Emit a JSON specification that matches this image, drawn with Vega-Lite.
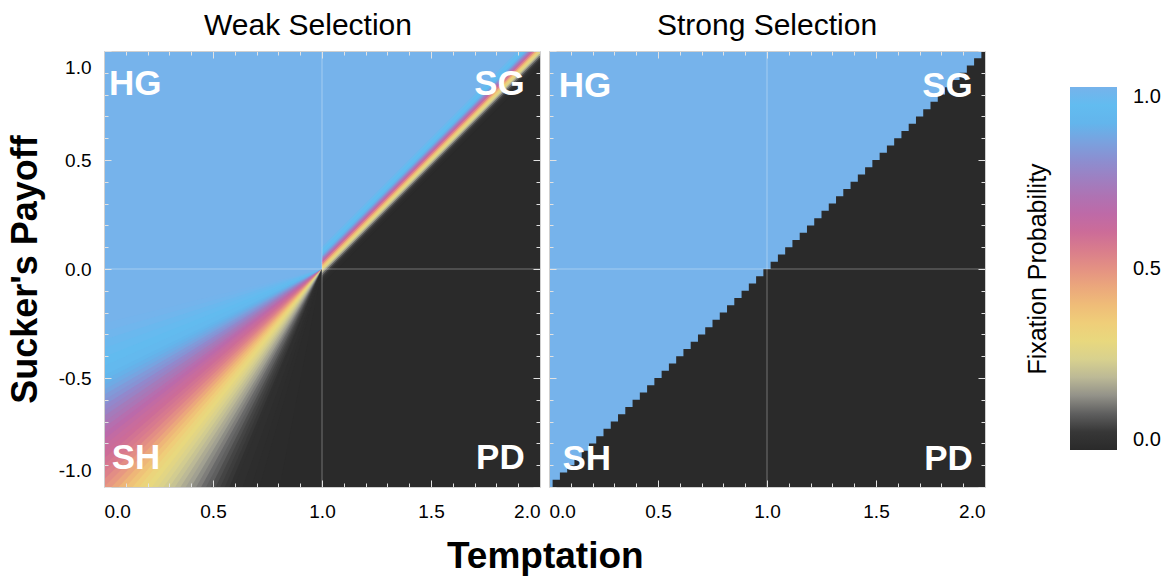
{
 "$schema": "https://vega.github.io/schema/vega-lite/v6.json",
 "padding": {"left": 7, "top": 10, "right": 5, "bottom": 5},
 "background": "white",
 "title": {"text": "Temptation", "orient": "bottom", "anchor": "start", "frame": "group", "dx": 343, "fontSize": 37, "fontWeight": "bold", "font": "Liberation Sans", "offset": 15, "color": "black"},
 "datasets": {
  "weak": [
   {"part":"bg","id":"bg","t":0,"lo":-1,"hi":1,"v":1},{"part":"bg","id":"bg","t":2,"lo":-1,"hi":1,"v":1},
   {"part":"dark","id":"dk","t":0.5,"lo":-1,"hi":-1,"v":0},{"part":"dark","id":"dk","t":1,"lo":-1,"hi":0,"v":0},{"part":"dark","id":"dk","t":2,"lo":-1,"hi":1,"v":0},
   {"part":"wedge","id":"w14","t":0,"lo":-0.3249,"hi":-0.2493,"v":0.995},{"part":"wedge","id":"w14","t":1,"lo":0,"hi":0,"v":0.995},
   {"part":"wedge","id":"w16","t":0,"lo":-0.3640,"hi":-0.2867,"v":0.985},{"part":"wedge","id":"w16","t":1,"lo":0,"hi":0,"v":0.985},
   {"part":"wedge","id":"w18","t":0,"lo":-0.4040,"hi":-0.3249,"v":0.97},{"part":"wedge","id":"w18","t":1,"lo":0,"hi":0,"v":0.97},
   {"part":"wedge","id":"w20","t":0,"lo":-0.4452,"hi":-0.3640,"v":0.96},{"part":"wedge","id":"w20","t":1,"lo":0,"hi":0,"v":0.96},
   {"part":"wedge","id":"w22","t":0,"lo":-0.4877,"hi":-0.4040,"v":0.94},{"part":"wedge","id":"w22","t":1,"lo":0,"hi":0,"v":0.94},
   {"part":"wedge","id":"w24","t":0,"lo":-0.5095,"hi":-0.4452,"v":0.925},{"part":"wedge","id":"w24","t":1,"lo":0,"hi":0,"v":0.925},
   {"part":"wedge","id":"w26","t":0,"lo":-0.5317,"hi":-0.4877,"v":0.905},{"part":"wedge","id":"w26","t":1,"lo":0,"hi":0,"v":0.905},
   {"part":"wedge","id":"w27","t":0,"lo":-0.5543,"hi":-0.5095,"v":0.89},{"part":"wedge","id":"w27","t":1,"lo":0,"hi":0,"v":0.89},
   {"part":"wedge","id":"w28","t":0,"lo":-0.5774,"hi":-0.5317,"v":0.875},{"part":"wedge","id":"w28","t":1,"lo":0,"hi":0,"v":0.875},
   {"part":"wedge","id":"w29","t":0,"lo":-0.6009,"hi":-0.5543,"v":0.855},{"part":"wedge","id":"w29","t":1,"lo":0,"hi":0,"v":0.855},
   {"part":"wedge","id":"w30","t":0,"lo":-0.6249,"hi":-0.5774,"v":0.83},{"part":"wedge","id":"w30","t":1,"lo":0,"hi":0,"v":0.83},
   {"part":"wedge","id":"w31","t":0,"lo":-0.6494,"hi":-0.6009,"v":0.81},{"part":"wedge","id":"w31","t":1,"lo":0,"hi":0,"v":0.81},
   {"part":"wedge","id":"w32","t":0,"lo":-0.6745,"hi":-0.6249,"v":0.78},{"part":"wedge","id":"w32","t":1,"lo":0,"hi":0,"v":0.78},
   {"part":"wedge","id":"w33","t":0,"lo":-0.7002,"hi":-0.6494,"v":0.76},{"part":"wedge","id":"w33","t":1,"lo":0,"hi":0,"v":0.76},
   {"part":"wedge","id":"w34","t":0,"lo":-0.7265,"hi":-0.6745,"v":0.73},{"part":"wedge","id":"w34","t":1,"lo":0,"hi":0,"v":0.73},
   {"part":"wedge","id":"w35","t":0,"lo":-0.7536,"hi":-0.7002,"v":0.71},{"part":"wedge","id":"w35","t":1,"lo":0,"hi":0,"v":0.71},
   {"part":"wedge","id":"w36","t":0,"lo":-0.7813,"hi":-0.7265,"v":0.68},{"part":"wedge","id":"w36","t":1,"lo":0,"hi":0,"v":0.68},
   {"part":"wedge","id":"w37","t":0,"lo":-0.8098,"hi":-0.7536,"v":0.66},{"part":"wedge","id":"w37","t":1,"lo":0,"hi":0,"v":0.66},
   {"part":"wedge","id":"w38","t":0,"lo":-0.8391,"hi":-0.7813,"v":0.635},{"part":"wedge","id":"w38","t":1,"lo":0,"hi":0,"v":0.635},
   {"part":"wedge","id":"w39","t":0,"lo":-0.8693,"hi":-0.8098,"v":0.615},{"part":"wedge","id":"w39","t":1,"lo":0,"hi":0,"v":0.615},
   {"part":"wedge","id":"w40","t":0,"lo":-0.9004,"hi":-0.8391,"v":0.6},{"part":"wedge","id":"w40","t":1,"lo":0,"hi":0,"v":0.6},
   {"part":"wedge","id":"w41","t":0,"lo":-0.9325,"hi":-0.8693,"v":0.58},{"part":"wedge","id":"w41","t":1,"lo":0,"hi":0,"v":0.58},
   {"part":"wedge","id":"w42","t":0,"lo":-0.9657,"hi":-0.9004,"v":0.56},{"part":"wedge","id":"w42","t":1,"lo":0,"hi":0,"v":0.56},
   {"part":"wedge","id":"w43","t":0,"lo":-1.0,"hi":-0.9325,"v":0.54},{"part":"wedge","id":"w43","t":1,"lo":0,"hi":0,"v":0.54},
   {"part":"wedge","id":"w44","t":0,"lo":-1.0355,"hi":-0.9657,"v":0.51},{"part":"wedge","id":"w44","t":1,"lo":0,"hi":0,"v":0.51},
   {"part":"wedge","id":"w45","t":0,"lo":-1.0724,"hi":-1.0,"v":0.485},{"part":"wedge","id":"w45","t":1,"lo":0,"hi":0,"v":0.485},
   {"part":"wedge","id":"w46","t":0,"lo":-1.1106,"hi":-1.0355,"v":0.45},{"part":"wedge","id":"w46","t":1,"lo":0,"hi":0,"v":0.45},
   {"part":"wedge","id":"w47","t":0,"lo":-1.1504,"hi":-1.0724,"v":0.415},{"part":"wedge","id":"w47","t":1,"lo":0,"hi":0,"v":0.415},
   {"part":"wedge","id":"w48","t":0,"lo":-1.1918,"hi":-1.1106,"v":0.385},{"part":"wedge","id":"w48","t":1,"lo":0,"hi":0,"v":0.385},
   {"part":"wedge","id":"w49","t":0,"lo":-1.2349,"hi":-1.1504,"v":0.355},{"part":"wedge","id":"w49","t":1,"lo":0,"hi":0,"v":0.355},
   {"part":"wedge","id":"w50","t":0,"lo":-1.2799,"hi":-1.1918,"v":0.32},{"part":"wedge","id":"w50","t":1,"lo":0,"hi":0,"v":0.32},
   {"part":"wedge","id":"w51","t":0,"lo":-1.3270,"hi":-1.2349,"v":0.3},{"part":"wedge","id":"w51","t":1,"lo":0,"hi":0,"v":0.3},
   {"part":"wedge","id":"w52","t":0,"lo":-1.3764,"hi":-1.2799,"v":0.28},{"part":"wedge","id":"w52","t":1,"lo":0,"hi":0,"v":0.28},
   {"part":"wedge","id":"w53","t":0,"lo":-1.4281,"hi":-1.3270,"v":0.26},{"part":"wedge","id":"w53","t":1,"lo":0,"hi":0,"v":0.26},
   {"part":"wedge","id":"w54","t":0,"lo":-1.4826,"hi":-1.3764,"v":0.24},{"part":"wedge","id":"w54","t":1,"lo":0,"hi":0,"v":0.24},
   {"part":"wedge","id":"w55","t":0,"lo":-1.5399,"hi":-1.4281,"v":0.22},{"part":"wedge","id":"w55","t":1,"lo":0,"hi":0,"v":0.22},
   {"part":"wedge","id":"w56","t":0,"lo":-1.6003,"hi":-1.4826,"v":0.2},{"part":"wedge","id":"w56","t":1,"lo":0,"hi":0,"v":0.2},
   {"part":"wedge","id":"w57","t":0,"lo":-1.6643,"hi":-1.5399,"v":0.18},{"part":"wedge","id":"w57","t":1,"lo":0,"hi":0,"v":0.18},
   {"part":"wedge","id":"w58","t":0,"lo":-1.7321,"hi":-1.6003,"v":0.165},{"part":"wedge","id":"w58","t":1,"lo":0,"hi":0,"v":0.165},
   {"part":"wedge","id":"w59","t":0,"lo":-1.8040,"hi":-1.6643,"v":0.145},{"part":"wedge","id":"w59","t":1,"lo":0,"hi":0,"v":0.145},
   {"part":"wedge","id":"w60","t":0,"lo":-1.8807,"hi":-1.7321,"v":0.13},{"part":"wedge","id":"w60","t":1,"lo":0,"hi":0,"v":0.13},
   {"part":"wedge","id":"w61","t":0,"lo":-1.9626,"hi":-1.8040,"v":0.11},{"part":"wedge","id":"w61","t":1,"lo":0,"hi":0,"v":0.11},
   {"part":"wedge","id":"w62","t":0,"lo":-2.0503,"hi":-1.8807,"v":0.1},{"part":"wedge","id":"w62","t":1,"lo":0,"hi":0,"v":0.1},
   {"part":"wedge","id":"w63","t":0,"lo":-2.1445,"hi":-1.9626,"v":0.085},{"part":"wedge","id":"w63","t":1,"lo":0,"hi":0,"v":0.085},
   {"part":"wedge","id":"w64","t":0,"lo":-2.2460,"hi":-2.0503,"v":0.07},{"part":"wedge","id":"w64","t":1,"lo":0,"hi":0,"v":0.07},
   {"part":"wedge","id":"w65","t":0,"lo":-2.3559,"hi":-2.1445,"v":0.06},{"part":"wedge","id":"w65","t":1,"lo":0,"hi":0,"v":0.06},
   {"part":"wedge","id":"w66","t":0,"lo":-2.4751,"hi":-2.2460,"v":0.05},{"part":"wedge","id":"w66","t":1,"lo":0,"hi":0,"v":0.05},
   {"part":"wedge","id":"w67","t":0,"lo":-2.7475,"hi":-2.3559,"v":0.04},{"part":"wedge","id":"w67","t":1,"lo":0,"hi":0,"v":0.04},
   {"part":"wedge","id":"w68","t":0,"lo":-3.0777,"hi":-2.4751,"v":0.03},{"part":"wedge","id":"w68","t":1,"lo":0,"hi":0,"v":0.03},
   {"part":"wedge","id":"w70","t":0,"lo":-3.4874,"hi":-2.7475,"v":0.018},{"part":"wedge","id":"w70","t":1,"lo":0,"hi":0,"v":0.018},
   {"part":"wedge","id":"w72","t":0,"lo":-4.0108,"hi":-3.0777,"v":0.01},{"part":"wedge","id":"w72","t":1,"lo":0,"hi":0,"v":0.01},
   {"part":"wedge","id":"w74","t":0,"lo":-5.1446,"hi":-3.4874,"v":0.004},{"part":"wedge","id":"w74","t":1,"lo":0,"hi":0,"v":0.004},
   {"part":"band","id":"b1","t":1,"lo":-0.07,"hi":-0.05,"v":0.005},{"part":"band","id":"b1","t":2,"lo":0.93,"hi":0.95,"v":0.005},
   {"part":"band","id":"b2","t":1,"lo":-0.06,"hi":-0.04,"v":0.012},{"part":"band","id":"b2","t":2,"lo":0.94,"hi":0.96,"v":0.012},
   {"part":"band","id":"b3","t":1,"lo":-0.05,"hi":-0.03,"v":0.03},{"part":"band","id":"b3","t":2,"lo":0.95,"hi":0.97,"v":0.03},
   {"part":"band","id":"b4","t":1,"lo":-0.04,"hi":-0.02,"v":0.06},{"part":"band","id":"b4","t":2,"lo":0.96,"hi":0.98,"v":0.06},
   {"part":"band","id":"b5","t":1,"lo":-0.03,"hi":-0.01,"v":0.11},{"part":"band","id":"b5","t":2,"lo":0.97,"hi":0.99,"v":0.11},
   {"part":"band","id":"b6","t":1,"lo":-0.02,"hi":0,"v":0.18},{"part":"band","id":"b6","t":2,"lo":0.98,"hi":1.0,"v":0.18},
   {"part":"band","id":"b7","t":1,"lo":-0.01,"hi":0.01,"v":0.26},{"part":"band","id":"b7","t":2,"lo":0.99,"hi":1.01,"v":0.26},
   {"part":"band","id":"b8","t":1,"lo":0,"hi":0.02,"v":0.33},{"part":"band","id":"b8","t":2,"lo":1.0,"hi":1.02,"v":0.33},
   {"part":"band","id":"b9","t":1,"lo":0.01,"hi":0.03,"v":0.42},{"part":"band","id":"b9","t":2,"lo":1.01,"hi":1.03,"v":0.42},
   {"part":"band","id":"b10","t":1,"lo":0.02,"hi":0.04,"v":0.53},{"part":"band","id":"b10","t":2,"lo":1.02,"hi":1.04,"v":0.53},
   {"part":"band","id":"b11","t":1,"lo":0.03,"hi":0.05,"v":0.64},{"part":"band","id":"b11","t":2,"lo":1.03,"hi":1.05,"v":0.64},
   {"part":"band","id":"b12","t":1,"lo":0.04,"hi":0.06,"v":0.74},{"part":"band","id":"b12","t":2,"lo":1.04,"hi":1.06,"v":0.74},
   {"part":"band","id":"b13","t":1,"lo":0.05,"hi":0.07,"v":0.83},{"part":"band","id":"b13","t":2,"lo":1.05,"hi":1.07,"v":0.83},
   {"part":"band","id":"b14","t":1,"lo":0.06,"hi":0.08,"v":0.9},{"part":"band","id":"b14","t":2,"lo":1.06,"hi":1.08,"v":0.9},
   {"part":"band","id":"b15","t":1,"lo":0.07,"hi":0.09,"v":0.95},{"part":"band","id":"b15","t":2,"lo":1.07,"hi":1.09,"v":0.95},
   {"part":"band","id":"b16","t":1,"lo":0.08,"hi":0.1,"v":0.95},{"part":"band","id":"b16","t":2,"lo":1.08,"hi":1.1,"v":0.95},
   {"part":"band","id":"b17","t":1,"lo":0.09,"hi":0.1,"v":0.975},{"part":"band","id":"b17","t":2,"lo":1.09,"hi":1.1,"v":0.975}
  ],
  "strong": [
   {"part":"bg","id":"bg","t":0,"lo":-1,"hi":1,"v":1},{"part":"bg","id":"bg","t":2,"lo":-1,"hi":1,"v":1},
   {"part":"dark","id":"dk","t":0,"lo":-1,"hi":-1,"v":0},
   {"part":"dark","id":"dk","t":0.0333,"lo":-1,"hi":-0.9667,"v":0},
   {"part":"dark","id":"dk","t":0.0667,"lo":-1,"hi":-0.9333,"v":0},
   {"part":"dark","id":"dk","t":0.1,"lo":-1,"hi":-0.9,"v":0},
   {"part":"dark","id":"dk","t":0.1333,"lo":-1,"hi":-0.8667,"v":0},
   {"part":"dark","id":"dk","t":0.1667,"lo":-1,"hi":-0.8333,"v":0},
   {"part":"dark","id":"dk","t":0.2,"lo":-1,"hi":-0.8,"v":0},
   {"part":"dark","id":"dk","t":0.2333,"lo":-1,"hi":-0.7667,"v":0},
   {"part":"dark","id":"dk","t":0.2667,"lo":-1,"hi":-0.7333,"v":0},
   {"part":"dark","id":"dk","t":0.3,"lo":-1,"hi":-0.7,"v":0},
   {"part":"dark","id":"dk","t":0.3333,"lo":-1,"hi":-0.6667,"v":0},
   {"part":"dark","id":"dk","t":0.3667,"lo":-1,"hi":-0.6333,"v":0},
   {"part":"dark","id":"dk","t":0.4,"lo":-1,"hi":-0.6,"v":0},
   {"part":"dark","id":"dk","t":0.4333,"lo":-1,"hi":-0.5667,"v":0},
   {"part":"dark","id":"dk","t":0.4667,"lo":-1,"hi":-0.5333,"v":0},
   {"part":"dark","id":"dk","t":0.5,"lo":-1,"hi":-0.5,"v":0},
   {"part":"dark","id":"dk","t":0.5333,"lo":-1,"hi":-0.4667,"v":0},
   {"part":"dark","id":"dk","t":0.5667,"lo":-1,"hi":-0.4333,"v":0},
   {"part":"dark","id":"dk","t":0.6,"lo":-1,"hi":-0.4,"v":0},
   {"part":"dark","id":"dk","t":0.6333,"lo":-1,"hi":-0.3667,"v":0},
   {"part":"dark","id":"dk","t":0.6667,"lo":-1,"hi":-0.3333,"v":0},
   {"part":"dark","id":"dk","t":0.7,"lo":-1,"hi":-0.3,"v":0},
   {"part":"dark","id":"dk","t":0.7333,"lo":-1,"hi":-0.2667,"v":0},
   {"part":"dark","id":"dk","t":0.7667,"lo":-1,"hi":-0.2333,"v":0},
   {"part":"dark","id":"dk","t":0.8,"lo":-1,"hi":-0.2,"v":0},
   {"part":"dark","id":"dk","t":0.8333,"lo":-1,"hi":-0.1667,"v":0},
   {"part":"dark","id":"dk","t":0.8667,"lo":-1,"hi":-0.1333,"v":0},
   {"part":"dark","id":"dk","t":0.9,"lo":-1,"hi":-0.1,"v":0},
   {"part":"dark","id":"dk","t":0.9333,"lo":-1,"hi":-0.0667,"v":0},
   {"part":"dark","id":"dk","t":0.9667,"lo":-1,"hi":-0.0333,"v":0},
   {"part":"dark","id":"dk","t":1,"lo":-1,"hi":0,"v":0},
   {"part":"dark","id":"dk","t":1.0333,"lo":-1,"hi":0.0333,"v":0},
   {"part":"dark","id":"dk","t":1.0667,"lo":-1,"hi":0.0667,"v":0},
   {"part":"dark","id":"dk","t":1.1,"lo":-1,"hi":0.1,"v":0},
   {"part":"dark","id":"dk","t":1.1333,"lo":-1,"hi":0.1333,"v":0},
   {"part":"dark","id":"dk","t":1.1667,"lo":-1,"hi":0.1667,"v":0},
   {"part":"dark","id":"dk","t":1.2,"lo":-1,"hi":0.2,"v":0},
   {"part":"dark","id":"dk","t":1.2333,"lo":-1,"hi":0.2333,"v":0},
   {"part":"dark","id":"dk","t":1.2667,"lo":-1,"hi":0.2667,"v":0},
   {"part":"dark","id":"dk","t":1.3,"lo":-1,"hi":0.3,"v":0},
   {"part":"dark","id":"dk","t":1.3333,"lo":-1,"hi":0.3333,"v":0},
   {"part":"dark","id":"dk","t":1.3667,"lo":-1,"hi":0.3667,"v":0},
   {"part":"dark","id":"dk","t":1.4,"lo":-1,"hi":0.4,"v":0},
   {"part":"dark","id":"dk","t":1.4333,"lo":-1,"hi":0.4333,"v":0},
   {"part":"dark","id":"dk","t":1.4667,"lo":-1,"hi":0.4667,"v":0},
   {"part":"dark","id":"dk","t":1.5,"lo":-1,"hi":0.5,"v":0},
   {"part":"dark","id":"dk","t":1.5333,"lo":-1,"hi":0.5333,"v":0},
   {"part":"dark","id":"dk","t":1.5667,"lo":-1,"hi":0.5667,"v":0},
   {"part":"dark","id":"dk","t":1.6,"lo":-1,"hi":0.6,"v":0},
   {"part":"dark","id":"dk","t":1.6333,"lo":-1,"hi":0.6333,"v":0},
   {"part":"dark","id":"dk","t":1.6667,"lo":-1,"hi":0.6667,"v":0},
   {"part":"dark","id":"dk","t":1.7,"lo":-1,"hi":0.7,"v":0},
   {"part":"dark","id":"dk","t":1.7333,"lo":-1,"hi":0.7333,"v":0},
   {"part":"dark","id":"dk","t":1.7667,"lo":-1,"hi":0.7667,"v":0},
   {"part":"dark","id":"dk","t":1.8,"lo":-1,"hi":0.8,"v":0},
   {"part":"dark","id":"dk","t":1.8333,"lo":-1,"hi":0.8333,"v":0},
   {"part":"dark","id":"dk","t":1.8667,"lo":-1,"hi":0.8667,"v":0},
   {"part":"dark","id":"dk","t":1.9,"lo":-1,"hi":0.9,"v":0},
   {"part":"dark","id":"dk","t":1.9333,"lo":-1,"hi":0.9333,"v":0},
   {"part":"dark","id":"dk","t":1.9667,"lo":-1,"hi":0.9667,"v":0},
   {"part":"dark","id":"dk","t":2,"lo":-1,"hi":1,"v":0}
  ],
  "vgrid": [{"t":1}],
  "hgrid": [{"s":0}],
  "corners": [
   {"panel":"weak","side":"L","t":0.023,"s":0.8,"label":"HG"},
   {"panel":"weak","side":"R","t":1.93,"s":0.8,"label":"SG"},
   {"panel":"weak","side":"L","t":0.035,"s":-0.916,"label":"SH"},
   {"panel":"weak","side":"R","t":1.93,"s":-0.916,"label":"PD"},
   {"panel":"strong","side":"L","t":0.045,"s":0.79,"label":"HG"},
   {"panel":"strong","side":"R","t":1.944,"s":0.79,"label":"SG"},
   {"panel":"strong","side":"L","t":0.062,"s":-0.922,"label":"SH"},
   {"panel":"strong","side":"R","t":1.944,"s":-0.922,"label":"PD"}
  ]
 },
 "hconcat": [
  {
   "width": 436, "height": 436,
   "title": {"text": "Weak Selection", "dx": -14, "offset": 10},
   "layer": [
    {"data": {"name": "weak"}, "transform": [{"filter": "datum.part == 'bg'"}],
     "mark": {"type": "area", "clip": true},
     "encoding": {
      "x": {"field": "t", "type": "quantitative", "scale": {"domain": [0, 2], "nice": false, "zero": false},
            "axis": {"orient": "bottom", "values": [0,0.1,0.2,0.3,0.4,0.5,0.6,0.7,0.8,0.9,1,1.1,1.2,1.3,1.4,1.5,1.6,1.7,1.8,1.9,2],
                     "labelExpr": "abs(datum.value*2 - round(datum.value*2)) < 0.001 ? format(datum.value, '.1f') : ''",
                     "tickSize": {"condition": {"test": "abs(datum.value*2 - round(datum.value*2)) < 0.001", "value": -7}, "value": -4},
                     "labelFlush": true, "labelOverlap": false, "labelPadding": 22, "title": null, "zindex": 1}},
      "y": {"field": "hi", "type": "quantitative", "stack": null, "scale": {"domain": [-1, 1], "nice": false, "zero": false},
            "axis": {"orient": "left", "values": [-1,-0.9,-0.8,-0.7,-0.6,-0.5,-0.4,-0.3,-0.2,-0.1,0,0.1,0.2,0.3,0.4,0.5,0.6,0.7,0.8,0.9,1],
                     "labelExpr": "abs(datum.value*2 - round(datum.value*2)) < 0.001 ? ((datum.value < 0 ? '-' : '') + format(abs(datum.value), '.1f')) : ''",
                     "tickSize": {"condition": {"test": "abs(datum.value*2 - round(datum.value*2)) < 0.001", "value": -7}, "value": -4},
                     "labelFlush": true, "labelFlushOffset": -7, "labelOverlap": false, "labelPadding": 20,
                     "title": "Sucker's Payoff", "titleFontSize": 36, "titleFontWeight": "bold", "titlePadding": 14, "zindex": 1}},
      "y2": {"field": "lo"},
      "color": {"field": "v", "type": "quantitative",
                "scale": {"domain": [0,0.04,0.08,0.12,0.16,0.2,0.25,0.3,0.36,0.42,0.48,0.54,0.6,0.66,0.72,0.78,0.84,0.9,0.95,1],
                          "range": ["#2a2a2a","#303030","#4a4a4a","#737373","#9d9c90","#bcb996","#d8d18e","#e8d87e","#f0cc78","#eeb478","#e89a80","#dc808a","#cc6c98","#bb6aaa","#a878b8","#9288cc","#7d9edc","#63b5ec","#62bcf0","#76b3eb"],
                          "interpolate": "rgb"},
                "legend": {"type": "gradient", "title": "Fixation Probability", "orient": "none", "legendX": 922, "legendY": 36, "direction": "vertical",
                           "gradientLength": 363, "gradientThickness": 47, "gradientStrokeWidth": 0, "values": [0, 0.5, 1], "format": ".1f",
                           "titleOrient": "left", "titleAnchor": "middle", "titleFontSize": 25, "titleFontWeight": "normal", "titleLimit": 500,
                           "titleFont": "Liberation Sans", "titleColor": "black", "titlePadding": 18, "labelFontSize": 20, "labelFont": "Liberation Sans", "labelColor": "black", "labelOffset": 16,
                           "encode": {"title": {"update": {"angle": {"value": 270}, "align": {"value": "center"}, "baseline": {"value": "top"}}}}}},
      "detail": {"field": "id"}
     }},
    {"data": {"name": "weak"}, "transform": [{"filter": "datum.part == 'dark'"}],
     "mark": {"type": "area", "clip": true},
     "encoding": {"x": {"field": "t", "type": "quantitative", "axis": null}, "y": {"field": "hi", "type": "quantitative", "stack": null, "axis": null}, "y2": {"field": "lo"},
                  "color": {"field": "v", "type": "quantitative"}, "detail": {"field": "id"}}},
    {"data": {"name": "weak"}, "transform": [{"filter": "datum.part == 'wedge'"}],
     "mark": {"type": "area", "clip": true},
     "encoding": {"x": {"field": "t", "type": "quantitative", "axis": null}, "y": {"field": "hi", "type": "quantitative", "stack": null, "axis": null}, "y2": {"field": "lo"},
                  "color": {"field": "v", "type": "quantitative"}, "detail": {"field": "id"}}},
    {"data": {"name": "weak"}, "transform": [{"filter": "datum.part == 'band'"}],
     "mark": {"type": "area", "clip": true},
     "encoding": {"x": {"field": "t", "type": "quantitative", "axis": null}, "y": {"field": "hi", "type": "quantitative", "stack": null, "axis": null}, "y2": {"field": "lo"},
                  "color": {"field": "v", "type": "quantitative"}, "detail": {"field": "id"}}},
    {"data": {"name": "vgrid"}, "mark": {"type": "rule", "color": "white", "opacity": 0.35, "strokeWidth": 1},
     "encoding": {"x": {"field": "t", "type": "quantitative",
                        "axis": {"orient": "top", "values": [0,0.1,0.2,0.3,0.4,0.5,0.6,0.7,0.8,0.9,1,1.1,1.2,1.3,1.4,1.5,1.6,1.7,1.8,1.9,2], "labels": false,
                                 "tickSize": {"condition": {"test": "abs(datum.value*2 - round(datum.value*2)) < 0.001", "value": -7}, "value": -4}, "title": null, "zindex": 1}}}},
    {"data": {"name": "hgrid"}, "mark": {"type": "rule", "color": "white", "opacity": 0.35, "strokeWidth": 1},
     "encoding": {"y": {"field": "s", "type": "quantitative",
                        "axis": {"orient": "right", "values": [-1,-0.9,-0.8,-0.7,-0.6,-0.5,-0.4,-0.3,-0.2,-0.1,0,0.1,0.2,0.3,0.4,0.5,0.6,0.7,0.8,0.9,1], "labels": false,
                                 "tickSize": {"condition": {"test": "abs(datum.value*2 - round(datum.value*2)) < 0.001", "value": -7}, "value": -4}, "title": null, "zindex": 1}}}},
    {"data": {"name": "corners"}, "transform": [{"filter": "datum.panel == 'weak' && datum.side == 'L'"}],
     "mark": {"type": "text", "align": "left", "baseline": "alphabetic", "font": "Liberation Sans", "fontWeight": "bold", "fontSize": 35, "color": "white"},
     "encoding": {"x": {"field": "t", "type": "quantitative", "axis": null}, "y": {"field": "s", "type": "quantitative", "axis": null}, "text": {"field": "label"}}},
    {"data": {"name": "corners"}, "transform": [{"filter": "datum.panel == 'weak' && datum.side == 'R'"}],
     "mark": {"type": "text", "align": "right", "baseline": "alphabetic", "font": "Liberation Sans", "fontWeight": "bold", "fontSize": 35, "color": "white"},
     "encoding": {"x": {"field": "t", "type": "quantitative", "axis": null}, "y": {"field": "s", "type": "quantitative", "axis": null}, "text": {"field": "label"}}}
   ],
   "resolve": {"axis": {"x": "independent", "y": "independent"}}
  },
  {
   "width": 436, "height": 436,
   "title": {"text": "Strong Selection", "offset": 10},
   "layer": [
    {"data": {"name": "strong"}, "transform": [{"filter": "datum.part == 'bg'"}],
     "mark": {"type": "area", "clip": true},
     "encoding": {
      "x": {"field": "t", "type": "quantitative", "scale": {"domain": [0, 2], "nice": false, "zero": false},
            "axis": {"orient": "bottom", "values": [0,0.1,0.2,0.3,0.4,0.5,0.6,0.7,0.8,0.9,1,1.1,1.2,1.3,1.4,1.5,1.6,1.7,1.8,1.9,2],
                     "labelExpr": "abs(datum.value*2 - round(datum.value*2)) < 0.001 ? format(datum.value, '.1f') : ''",
                     "tickSize": {"condition": {"test": "abs(datum.value*2 - round(datum.value*2)) < 0.001", "value": -7}, "value": -4},
                     "labelFlush": true, "labelOverlap": false, "labelPadding": 22, "title": null, "zindex": 1}},
      "y": {"field": "hi", "type": "quantitative", "stack": null, "scale": {"domain": [-1, 1], "nice": false, "zero": false},
            "axis": {"orient": "left", "values": [-1,-0.9,-0.8,-0.7,-0.6,-0.5,-0.4,-0.3,-0.2,-0.1,0,0.1,0.2,0.3,0.4,0.5,0.6,0.7,0.8,0.9,1], "labels": false,
                     "tickSize": {"condition": {"test": "abs(datum.value*2 - round(datum.value*2)) < 0.001", "value": -7}, "value": -4},
                     "title": null, "zindex": 1}},
      "y2": {"field": "lo"},
      "color": {"field": "v", "type": "quantitative"},
      "detail": {"field": "id"}
     }},
    {"data": {"name": "strong"}, "transform": [{"filter": "datum.part == 'dark'"}],
     "mark": {"type": "area", "clip": true, "interpolate": "step"},
     "encoding": {"x": {"field": "t", "type": "quantitative", "axis": null}, "y": {"field": "hi", "type": "quantitative", "stack": null, "axis": null}, "y2": {"field": "lo"},
                  "color": {"field": "v", "type": "quantitative"}, "detail": {"field": "id"}}},
    {"data": {"name": "vgrid"}, "mark": {"type": "rule", "color": "white", "opacity": 0.35, "strokeWidth": 1},
     "encoding": {"x": {"field": "t", "type": "quantitative",
                        "axis": {"orient": "top", "values": [0,0.1,0.2,0.3,0.4,0.5,0.6,0.7,0.8,0.9,1,1.1,1.2,1.3,1.4,1.5,1.6,1.7,1.8,1.9,2], "labels": false,
                                 "tickSize": {"condition": {"test": "abs(datum.value*2 - round(datum.value*2)) < 0.001", "value": -7}, "value": -4}, "title": null, "zindex": 1}}}},
    {"data": {"name": "hgrid"}, "mark": {"type": "rule", "color": "white", "opacity": 0.35, "strokeWidth": 1},
     "encoding": {"y": {"field": "s", "type": "quantitative",
                        "axis": {"orient": "right", "values": [-1,-0.9,-0.8,-0.7,-0.6,-0.5,-0.4,-0.3,-0.2,-0.1,0,0.1,0.2,0.3,0.4,0.5,0.6,0.7,0.8,0.9,1], "labels": false,
                                 "tickSize": {"condition": {"test": "abs(datum.value*2 - round(datum.value*2)) < 0.001", "value": -7}, "value": -4}, "title": null, "zindex": 1}}}},
    {"data": {"name": "corners"}, "transform": [{"filter": "datum.panel == 'strong' && datum.side == 'L'"}],
     "mark": {"type": "text", "align": "left", "baseline": "alphabetic", "font": "Liberation Sans", "fontWeight": "bold", "fontSize": 35, "color": "white"},
     "encoding": {"x": {"field": "t", "type": "quantitative", "axis": null}, "y": {"field": "s", "type": "quantitative", "axis": null}, "text": {"field": "label"}}},
    {"data": {"name": "corners"}, "transform": [{"filter": "datum.panel == 'strong' && datum.side == 'R'"}],
     "mark": {"type": "text", "align": "right", "baseline": "alphabetic", "font": "Liberation Sans", "fontWeight": "bold", "fontSize": 35, "color": "white"},
     "encoding": {"x": {"field": "t", "type": "quantitative", "axis": null}, "y": {"field": "s", "type": "quantitative", "axis": null}, "text": {"field": "label"}}}
   ],
   "resolve": {"axis": {"x": "independent", "y": "independent"}}
  }
 ],
 "spacing": 7,
 "resolve": {"scale": {"color": "shared"}},
 "config": {
  "view": {"stroke": null},
  "axis": {"minExtent": 0, "grid": false, "domainColor": "#cfcfcf", "tickColor": "#e2e2e2", "labelFont": "Liberation Sans", "labelFontSize": 19, "labelColor": "black", "titleFont": "Liberation Sans", "titleColor": "black"},
  "title": {"font": "Liberation Sans", "fontSize": 30, "fontWeight": "normal", "color": "black"}
 }
}
